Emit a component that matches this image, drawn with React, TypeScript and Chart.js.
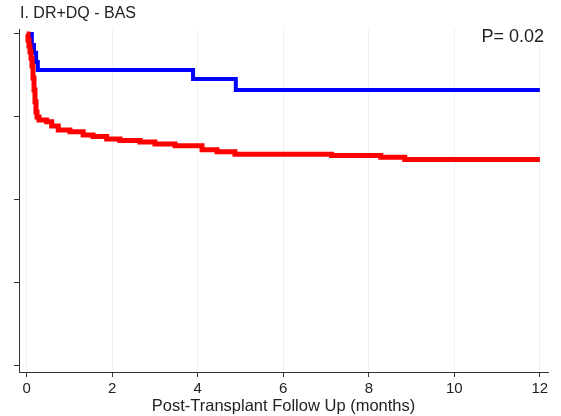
import React, { useEffect, useRef } from "react";
import { Chart, registerables } from "chart.js";

Chart.register(...registerables);

const titleText = "I. DR+DQ - BAS";
const pValueText = "P= 0.02";
const xAxisTitle = "Post-Transplant Follow Up (months)";
const xTickValues = [0, 2, 4, 6, 8, 10, 12];
const yTickValues = [0, 0.25, 0.5, 0.75, 1];

const blueMonths = [0.07, 0.12, 0.17, 0.22, 0.26, 3.89, 4.89, 12.0];
const blueSurvival = [1.0, 0.967, 0.943, 0.915, 0.891, 0.864, 0.831, 0.831];

const redMonths = [
  0.0, 0.03, 0.054, 0.077, 0.1, 0.124, 0.147, 0.171, 0.194, 0.217, 0.241, 0.287,
  0.467, 0.584, 0.738, 1.01, 1.32, 1.55, 1.87, 2.18, 2.65, 3.0, 3.47, 4.1, 4.45,
  4.87, 7.13, 8.28, 8.84, 12.0,
];
const redSurvival = [
  1.0, 0.982, 0.964, 0.946, 0.927, 0.903, 0.867, 0.831, 0.795, 0.764, 0.749, 0.74,
  0.735, 0.722, 0.71, 0.705, 0.695, 0.69, 0.683, 0.678, 0.674, 0.668, 0.662, 0.65,
  0.644, 0.637, 0.633, 0.628, 0.621, 0.621,
];

const FONT = "'Liberation Sans', Arial, Helvetica, sans-serif";

const textPlugin = {
  id: "textPlugin",
  afterDraw(chart: any) {
    const ctx = chart.ctx;
    const area = chart.chartArea;
    ctx.save();
    ctx.fillStyle = "#222";
    ctx.textBaseline = "middle";
    ctx.font = `16px ${FONT}`;
    ctx.textAlign = "left";
    ctx.fillText(titleText, 20, 14);
    ctx.font = `18px ${FONT}`;
    ctx.textAlign = "right";
    ctx.fillText(pValueText, area.right - 4, 37);
    ctx.restore();
  },
};

export default function App() {
  const ref = useRef<HTMLCanvasElement | null>(null);
  useEffect(() => {
    if (!ref.current) return;
    const chart = new Chart(ref.current, {
      type: "line",
      data: {
        datasets: [
          {
            label: "Red",
            data: redMonths.map((m, i) => ({ x: m, y: redSurvival[i] })),
            borderColor: "#ff0000",
            backgroundColor: "#ff0000",
            borderWidth: 5,
            pointRadius: 0,
            stepped: "before",
            fill: false,
          },
          {
            label: "Blue",
            data: blueMonths.map((m, i) => ({ x: m, y: blueSurvival[i] })),
            borderColor: "#0000ff",
            backgroundColor: "#0000ff",
            borderWidth: 4,
            pointRadius: 0,
            stepped: "before",
            fill: false,
          },
        ],
      },
      options: {
        animation: false,
        responsive: true,
        maintainAspectRatio: false,
        layout: { padding: { top: 29, right: 13, left: 0, bottom: 0 } },
        plugins: {
          legend: { display: false },
          title: { display: false },
          tooltip: { enabled: false },
        },
        scales: {
          x: {
            type: "linear",
            min: -0.18,
            max: 12.19,
            afterBuildTicks: (s: any) => {
              s.ticks = xTickValues.map((v) => ({ value: v }));
            },
            afterFit: (s: any) => {
              s.height = 44;
            },
            grid: {
              color: "#edf3f3",
              tickColor: "#333",
              tickLength: 5,
              drawTicks: true,
            },
            border: { display: true, color: "#333", width: 1 },
            ticks: {
              color: "#222",
              font: { family: FONT, size: 15 },
              padding: 3,
              maxRotation: 0,
              autoSkip: false,
            },
            title: {
              display: true,
              text: xAxisTitle,
              color: "#222",
              font: { family: FONT, size: 16.5 },
              padding: { top: 0, bottom: 0 },
            },
          },
          y: {
            type: "linear",
            min: -0.021,
            max: 1.015,
            afterBuildTicks: (s: any) => {
              s.ticks = yTickValues.map((v) => ({ value: v }));
            },
            afterFit: (s: any) => {
              s.width = 19;
            },
            grid: {
              drawOnChartArea: false,
              drawTicks: true,
              tickColor: "#333",
              tickLength: 5,
            },
            border: { display: true, color: "#333", width: 1 },
            ticks: { display: false },
          },
        },
      },
      plugins: [textPlugin],
    } as any);
    return () => chart.destroy();
  }, []);
  return (
    <div style={{ position: "absolute", left: 0, top: 0, width: 561, height: 416 }}>
      <canvas ref={ref} />
    </div>
  );
}
